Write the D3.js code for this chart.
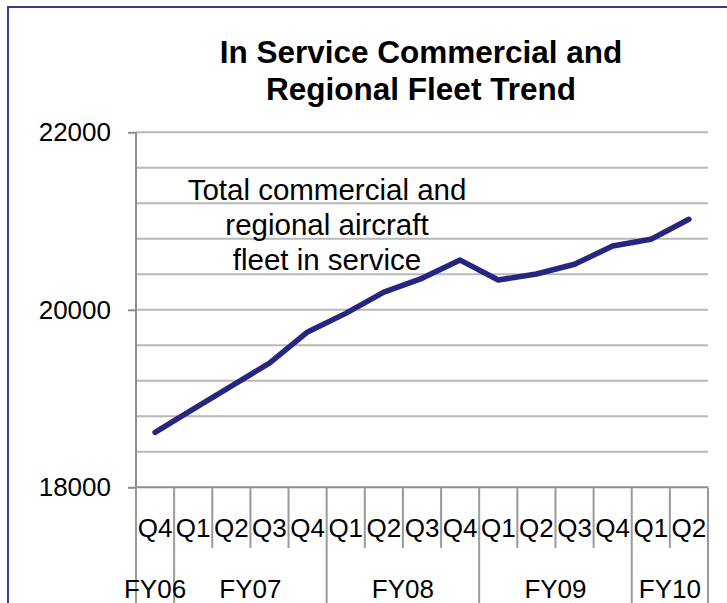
<!DOCTYPE html>
<html>
<head>
<meta charset="utf-8">
<script src="https://cdn.jsdelivr.net/npm/d3@7"></script>
<style>
  html, body { margin: 0; padding: 0; background: #fff; }
  svg { display: block; font-family: "Liberation Sans", Arial, sans-serif; }
</style>
</head>
<body>
<div id="container"></div>
<script>
/* DATA */
const quarters = ["Q4", "Q1", "Q2", "Q3", "Q4", "Q1", "Q2", "Q3", "Q4", "Q1", "Q2", "Q3", "Q4", "Q1", "Q2"];
const fiscalYears = ["FY06", "FY07", "FY08", "FY09", "FY10"];
const quartersPerYear = [1, 4, 4, 4, 2];
const fleet = [18620, 18880, 19140, 19400, 19750, 19960, 20200, 20355, 20560, 20336, 20403, 20513, 20719, 20794, 21020];
const yTicks = [18000, 20000, 22000];
const titleLines = ["In Service Commercial and", "Regional Fleet Trend"];
const noteLines = ["Total commercial and", "regional aircraft", "fleet in service"];

/* CONSTANTS */
const W = 727, H = 603;
const plot = { left: 136, right: 708, top: 132.3, bottom: 487.3 };

const svg = d3.select('#container')
  .append('svg')
  .attr("width", W)
  .attr("height", H);

// frame
svg.append("path")
  .attr("d", `M8,${H + 5} V7 H${W + 5}`)
  .attr("fill", "none")
  .attr("stroke", "#3a3a98")
  .attr("stroke-width", 2);

// scales
const idx = quarters.map((q, i) => i);
const xScale = d3.scaleBand()
  .domain(idx)
  .range([plot.left, plot.right]);

const yScale = d3.scaleLinear()
  .domain([18000, 22000])
  .range([plot.bottom, plot.top]);

const chart = svg.append("g");

// gridlines every 400
chart.append("g")
  .selectAll("line")
  .data(d3.range(18400, 22001, 400))
  .join("line")
  .attr("x1", plot.left)
  .attr("x2", plot.right)
  .attr("y1", d => yScale(d))
  .attr("y2", d => yScale(d))
  .attr("stroke", "#b8b8b8")
  .attr("stroke-width", 2);

// y axis
const yAxis = chart.append("g")
  .attr("transform", `translate(${plot.left},0)`)
  .call(d3.axisLeft(yScale).tickValues(yTicks).tickSize(8).tickPadding(17).tickFormat(d3.format("d")));
yAxis.select(".domain").remove();
yAxis.selectAll(".tick line").attr("stroke", "#8c8c8c").attr("stroke-width", 2);
yAxis.selectAll(".tick text")
  .attr("font-size", 26)
  .attr("font-family", "Liberation Sans, Arial, sans-serif")
  .attr("fill", "#000");

// vertical axis line
chart.append("line")
  .attr("x1", plot.left).attr("x2", plot.left)
  .attr("y1", plot.top).attr("y2", H)
  .attr("stroke", "#8c8c8c").attr("stroke-width", 2);

// x axis (quarters)
const xAxis = chart.append("g")
  .attr("transform", `translate(0,${plot.bottom})`)
  .call(d3.axisBottom(xScale).tickSize(0).tickPadding(0).tickFormat(i => quarters[i]));
xAxis.select(".domain")
  .attr("d", `M${plot.left},0H${plot.right}`)
  .attr("stroke", "#8c8c8c").attr("stroke-width", 2);
xAxis.selectAll(".tick text")
  .attr("dy", null)
  .attr("y", 50)
  .attr("font-size", 26)
  .attr("font-family", "Liberation Sans, Arial, sans-serif")
  .attr("fill", "#000");

// category dividers: year boundaries run to the bottom
const yearStarts = [];
let acc = 0;
quartersPerYear.forEach(n => { yearStarts.push(acc); acc += n; });
yearStarts.push(acc);

const boundaries = d3.range(0, quarters.length + 1);
chart.append("g")
  .selectAll("line")
  .data(boundaries)
  .join("line")
  .attr("x1", b => plot.left + b * xScale.step())
  .attr("x2", b => plot.left + b * xScale.step())
  .attr("y1", plot.bottom)
  .attr("y2", b => yearStarts.includes(b) ? H : 548)
  .attr("stroke", "#9a9a9a")
  .attr("stroke-width", 2);

// fiscal year labels
chart.append("g")
  .selectAll("text")
  .data(fiscalYears)
  .join("text")
  .attr("x", (d, i) => plot.left + (yearStarts[i] + quartersPerYear[i] / 2) * xScale.step())
  .attr("y", 598)
  .attr("text-anchor", "middle")
  .attr("font-size", 26)
  .text(d => d);

// line
const line = d3.line()
  .x((d, i) => xScale(i) + xScale.bandwidth() / 2)
  .y(d => yScale(d));

chart.append("path")
  .datum(fleet)
  .attr("d", line)
  .attr("fill", "none")
  .attr("stroke", "#262680")
  .attr("stroke-width", 5.5)
  .attr("stroke-linejoin", "round")
  .attr("stroke-linecap", "round");

// annotation
svg.append("g")
  .selectAll("text")
  .data(noteLines)
  .join("text")
  .attr("x", 327)
  .attr("y", (d, i) => 200 + i * 35)
  .attr("text-anchor", "middle")
  .attr("font-size", 29.5)
  .text(d => d);

// title
svg.append("g")
  .selectAll("text")
  .data(titleLines)
  .join("text")
  .attr("x", 421)
  .attr("y", (d, i) => 63 + i * 37)
  .attr("text-anchor", "middle")
  .attr("font-size", 31.5)
  .attr("font-weight", "bold")
  .text(d => d);
</script>
</body>
</html>
